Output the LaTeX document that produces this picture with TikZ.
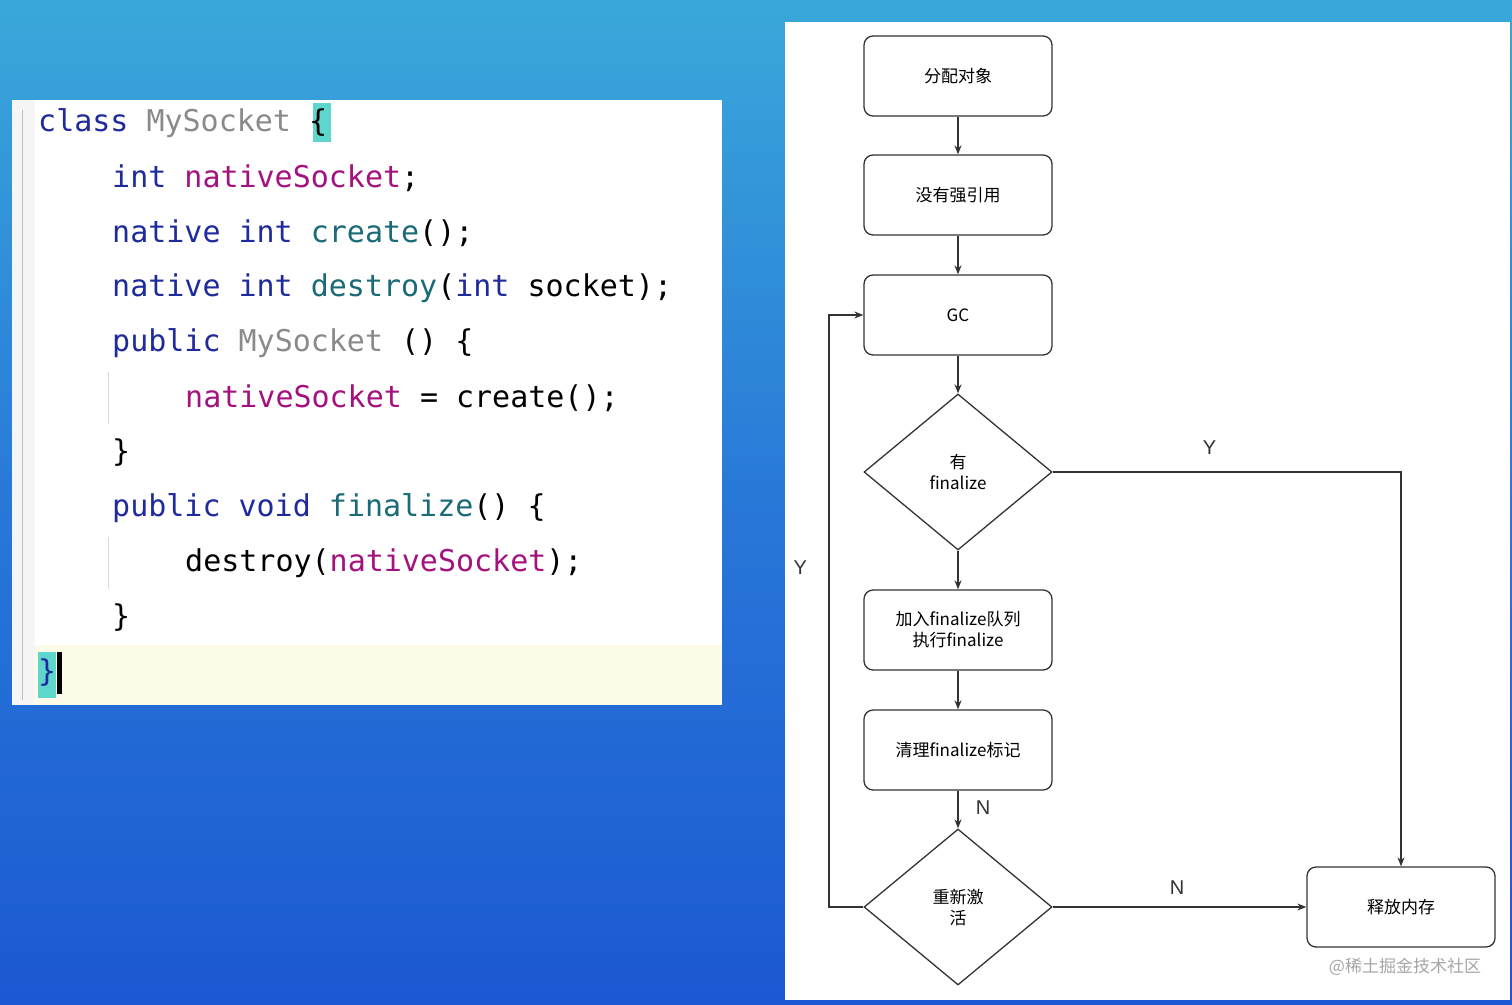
\documentclass[tikz,border=0pt]{standalone}
\usepackage{fontspec}
\setmainfont{Liberation Sans}
\newfontfamily\cjk{Noto Sans CJK SC}
\newfontfamily\mono{DejaVu Sans Mono}
\usetikzlibrary{shapes.geometric,arrows.meta}
\definecolor{kw}{HTML}{1F2A9C}
\definecolor{fld}{HTML}{A3127F}
\definecolor{mth}{HTML}{1B6A78}
\definecolor{cls}{HTML}{8A8A8A}
\definecolor{hl}{HTML}{5FD6CC}
\definecolor{bgtop}{HTML}{3AA8DA}
\definecolor{bgmid}{HTML}{2878D8}
\definecolor{bgbot}{HTML}{1C58D2}
\definecolor{lastline}{HTML}{FCFBE8}
\begin{document}
\begin{tikzpicture}[x=1pt,y=-1pt,
  code/.style={anchor=west,inner sep=0pt,font=\mono\fontsize{30}{30}\selectfont},
  box/.style={draw=black!80,line width=1.3pt,rounded corners=9pt,minimum width=188pt,minimum height=80pt,font=\cjk\fontsize{17}{21}\selectfont,align=center,fill=white},
  dia/.style={draw=black!80,line width=1.3pt,diamond,minimum width=188pt,minimum height=156pt,inner sep=0pt,font=\cjk\fontsize{17}{21}\selectfont,align=center,aspect=1.2},
  arr/.style={draw=black!80,line width=1.3pt,-{Stealth[length=9pt,width=7pt]}},
  lab/.style={font=\fontsize{20}{20}\selectfont,text=black!80}]
\useasboundingbox (0,0) rectangle (1512,1004);
\shade[top color=bgtop,bottom color=bgmid] (0,0) rectangle (1512,502);
\shade[top color=bgmid,bottom color=bgbot] (0,502) rectangle (1512,1004);
% code panel
\fill[white] (12,100) rectangle (722,705);
\fill[lastline] (35,645) rectangle (722,705);
\fill[black!4] (12,100) rectangle (35,705);
\draw[black!25,line width=1pt] (22,110) -- (22,700);
\draw[black!15,line width=1pt] (108,372) -- (108,424) (108,537) -- (108,589);
\fill[hl] (313,103) rectangle (331,142);
\fill[hl] (38,652) rectangle (56,698);
\fill[black] (57,652) rectangle (62,694);
\node[code] (l1) at (38,123) {\textcolor{kw}{class} \textcolor{cls}{MySocket} \{};
\node[code] (l2) at (112,178) {\textcolor{kw}{int} \textcolor{fld}{nativeSocket};};
\node[code] (l3) at (112,233) {\textcolor{kw}{native int} \textcolor{mth}{create}();};
\node[code] (l4) at (112,288) {\textcolor{kw}{native int} \textcolor{mth}{destroy}(\textcolor{kw}{int} socket);};
\node[code] (l5) at (112,343) {\textcolor{kw}{public} \textcolor{cls}{MySocket} () \{};
\node[code] (l6) at (185,398) {\textcolor{fld}{nativeSocket} = create();};
\node[code] (l7) at (112,453) {\}};
\node[code] (l8) at (112,508) {\textcolor{kw}{public void} \textcolor{mth}{finalize}() \{};
\node[code] (l9) at (185,563) {destroy(\textcolor{fld}{nativeSocket});};
\node[code] (l10) at (112,618) {\}};
\node[code] (l11) at (38,673) {\textcolor{kw}{\}}};
% flow panel
\fill[white] (785,22) rectangle (1510,1000);
\node[box] (a) at (958,76) {分配对象};
\node[box] (b) at (958,195) {没有强引用};
\node[box] (gc) at (958,315) {\fontsize{17}{17}\selectfont GC};
\node[dia] (d1) at (958,472) {有\\finalize};
\node[box] (c) at (958,630) {加入finalize队列\\执行finalize};
\node[box] (e) at (958,750) {清理finalize标记};
\node[dia] (d2) at (958,907) {重新激\\活};
\node[box] (r) at (1401,907) {释放内存};
\draw[arr] (a) -- (b);
\draw[arr] (b) -- (gc);
\draw[arr] (gc) -- (d1);
\draw[arr] (d1) -- (c);
\draw[arr] (c) -- (e);
\draw[arr] (e) -- node[lab,right=14pt,pos=0.45] {N} (d2);
\draw[arr] (d1.east) -- node[lab,above=14pt,pos=0.45] {Y} (1401,472) -- (r.north);
\draw[arr] (d2.east) -- node[lab,above=9pt,pos=0.49] {N} (r.west);
\coordinate (lp) at (829,907);
\draw[arr] (d2.west) -- (lp) -- node[lab,left=18pt,pos=0.574] {Y} (829,315) -- (gc.west);
\node[font=\cjk\fontsize{17}{17}\selectfont,text=black!35] (wm) at (1405,967) {@稀土掘金技术社区};
\end{tikzpicture}
\end{document}
